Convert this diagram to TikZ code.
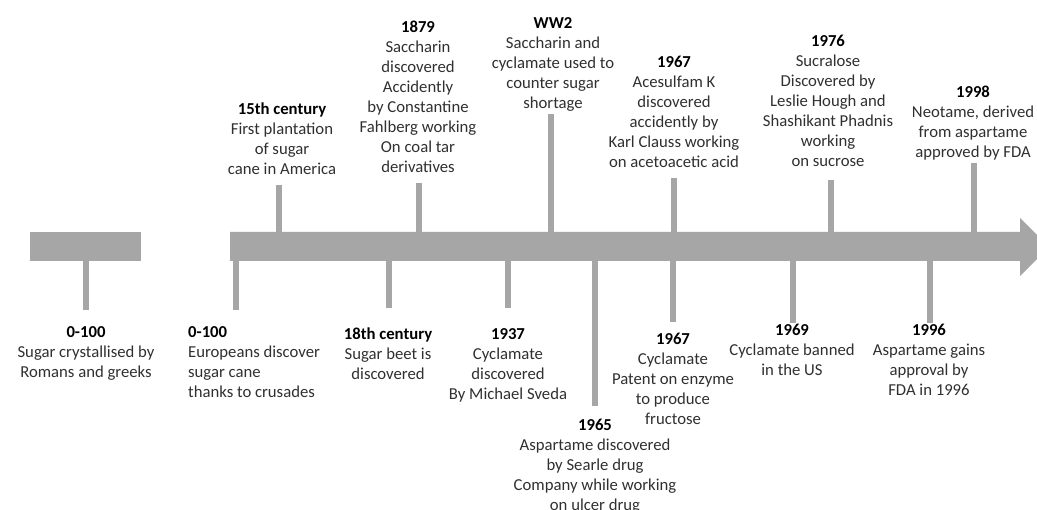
\documentclass[tikz,border=0pt]{standalone}
\usepackage{fontspec}
\setmainfont{Carlito}
\usepackage{tikz}
\usetikzlibrary{calc}
\usepackage{xcolor}

\definecolor{bargray}{RGB}{166,166,166}
\definecolor{textgray}{RGB}{48,48,48}

\begin{document}
\begin{tikzpicture}[x=1pt, y=-1pt,
	stem/.style={line width=6pt, bargray},
	event/.style={inner sep=0pt, align=center, anchor=north, text=textgray,
		font=\fontsize{16.7}{20}\selectfont}]
	\useasboundingbox (0,0) rectangle (1037,510);
	\clip (0,0) rectangle (1037,510);
	\fill [white] (0,0) rectangle (1037,510);
	% the two bars
	\fill [bargray] (30,232) rectangle (141,261);
	\fill [bargray] (230,232) -- (1020,232) -- (1020,218) -- (1049,247) -- (1020,276) -- (1020,261) -- (230,261) -- cycle;
	% stems above
	\coordinate (a1) at (279,232);  \coordinate (A1) at (279,185);
	\coordinate (a2) at (419,232);  \coordinate (A2) at (419,183);
	\coordinate (a3) at (551,232);  \coordinate (A3) at (551,114);
	\coordinate (a4) at (674,232);  \coordinate (A4) at (674,178);
	\coordinate (a5) at (831,232);  \coordinate (A5) at (831,180);
	\coordinate (a6) at (974,232);  \coordinate (A6) at (974,163);
	\draw [stem] (a1) -- (A1);
	\draw [stem] (a2) -- (A2);
	\draw [stem] (a3) -- (A3);
	\draw [stem] (a4) -- (A4);
	\draw [stem] (a5) -- (A5);
	\draw [stem] (a6) -- (A6);
	% stems below
	\coordinate (b0) at (86,261);   \coordinate (B0) at (86,310);
	\coordinate (b1) at (236,261);  \coordinate (B1) at (236,310);
	\coordinate (b2) at (389,261);  \coordinate (B2) at (389,308);
	\coordinate (b3) at (508,261);  \coordinate (B3) at (508,308);
	\coordinate (b4) at (595,261);  \coordinate (B4) at (595,406);
	\coordinate (b5) at (673,261);  \coordinate (B5) at (673,322);
	\coordinate (b6) at (793,261);  \coordinate (B6) at (793,323);
	\coordinate (b7) at (930,261);  \coordinate (B7) at (930,323);
	\draw [stem] (b0) -- (B0);
	\draw [stem] (b1) -- (B1);
	\draw [stem] (b2) -- (B2);
	\draw [stem] (b3) -- (B3);
	\draw [stem] (b4) -- (B4);
	\draw [stem] (b5) -- (B5);
	\draw [stem] (b6) -- (B6);
	\draw [stem] (b7) -- (B7);
	% labels below
	\node [event] (romans) at (86,326) {\textcolor{black}{\textbf{0-100}}\\Sugar crystallised by\\Romans and greeks};
	\node [event, align=left, anchor=north west] (europeans) at (188,326) {\textcolor{black}{\textbf{0-100}}\\Europeans discover\\sugar cane\\thanks to crusades};
	\node [event] (beet) at (388,328) {\textcolor{black}{\textbf{18th century}}\\Sugar beet is\\discovered};
	\node [event] (cyclamate) at (508,328) {\textcolor{black}{\textbf{1937}}\\Cyclamate\\discovered\\By Michael Sveda};
	\node [event] (aspartame) at (595,419) {\textcolor{black}{\textbf{1965}}\\Aspartame discovered\\by Searle drug\\Company while working\\on ulcer drug};
	\node [event] (patent) at (673,333) {\textcolor{black}{\textbf{1967}}\\Cyclamate\\Patent on enzyme\\to produce\\fructose};
	\node [event] (ban) at (792,324) {\textcolor{black}{\textbf{1969}}\\Cyclamate banned\\in the US};
	\node [event] (approval) at (929,324) {\textcolor{black}{\textbf{1996}}\\Aspartame gains\\approval by\\FDA in 1996};
	% labels above
	\node [event] (plantation) at (282,103) {\textcolor{black}{\textbf{15th century}}\\First plantation\\of sugar\\cane in America};
	\node [event] (saccharin) at (418,21) {\textcolor{black}{\textbf{1879}}\\Saccharin\\discovered\\Accidently\\by Constantine\\Fahlberg working\\On coal tar\\derivatives};
	\node [event] (war) at (553,17) {\textcolor{black}{\textbf{WW2}}\\Saccharin and\\cyclamate used to\\counter sugar\\shortage};
	\node [event] (acesulfam) at (674,56) {\textcolor{black}{\textbf{1967}}\\Acesulfam K\\discovered\\accidently by\\Karl Clauss working\\on acetoacetic acid};
	\node [event] (sucralose) at (828,35) {\textcolor{black}{\textbf{1976}}\\Sucralose\\Discovered by\\Leslie Hough and\\Shashikant Phadnis\\working\\on sucrose};
	\node [event] (neotame) at (973,86) {\textcolor{black}{\textbf{1998}}\\Neotame, derived\\from aspartame\\approved by FDA};
\end{tikzpicture}
\end{document}
